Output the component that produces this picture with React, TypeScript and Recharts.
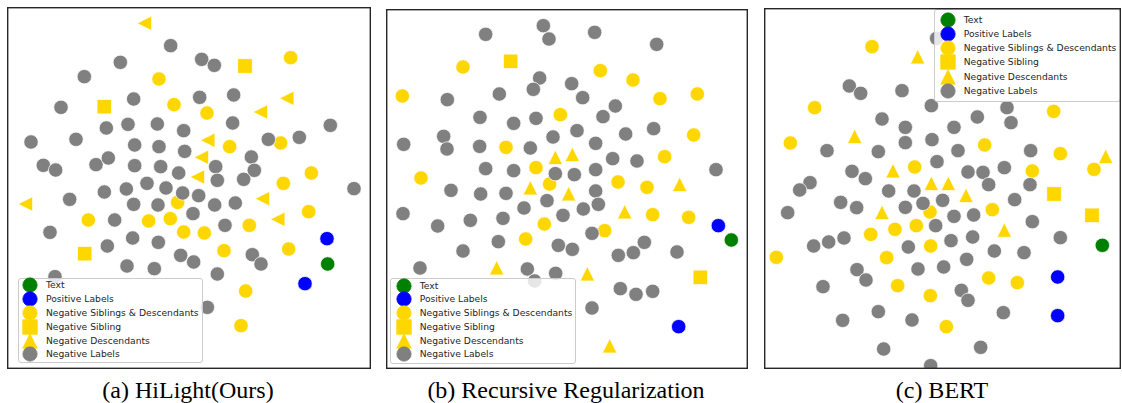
import React from 'react';
import { ScatterChart, Scatter, XAxis, YAxis, Legend } from 'recharts';

type Pt = [number, number];

// ---- shared series definitions ----
const seriesNames = [
  'Text',
  'Positive Labels',
  'Negative Siblings & Descendants',
  'Negative Sibling',
  'Negative Descendants',
  'Negative Labels',
];
const seriesColors = ['#008000', '#0000ff', '#ffd700', '#ffd700', '#ffd700', '#808080'];
const legendShapes = ['circle', 'circle', 'circle', 'square', 'triangle', 'circle'];
const captions = ['(a) HiLight(Ours)', '(b) Recursive Regularization', '(c) BERT'];

// ---- panel (a) HiLight ----
const aText: Pt[] = [[968, 777]];
const aPositive: Pt[] = [[966, 701], [900, 836]];
const aNegSibDesc: Pt[] = [
  [857, 158], [462, 222], [507, 299], [606, 324], [674, 425], [827, 414], [919, 504], [835, 535],
  [518, 592], [250, 645], [431, 648], [496, 641], [536, 681], [598, 684], [733, 661], [911, 620],
  [657, 737], [851, 732], [722, 858], [708, 962],
];
const aNegSibling: Pt[] = [[720, 183], [298, 305], [239, 746]];
const aNegDesc: Pt[] = [
  [418, 55], [845, 280], [766, 321], [608, 406], [589, 457], [577, 516], [61, 597], [772, 581], [818, 643],
];
const aNegLabels: Pt[] = [
  [497, 122], [346, 172], [590, 163], [628, 181], [238, 215], [386, 282], [584, 277], [686, 270],
  [168, 307], [304, 369], [369, 358], [457, 357], [536, 377], [683, 354], [976, 361], [78, 411],
  [213, 403], [389, 420], [462, 425], [539, 439], [790, 403], [883, 397], [115, 481], [152, 495],
  [273, 479], [310, 459], [389, 482], [467, 485], [521, 504], [632, 485], [739, 456], [748, 496],
  [716, 523], [637, 526], [1047, 551], [194, 583], [298, 561], [364, 552], [426, 535], [483, 549],
  [533, 564], [581, 572], [386, 598], [459, 600], [629, 600], [691, 594], [564, 626], [329, 645],
  [660, 661], [135, 682], [383, 699], [460, 712], [307, 723], [527, 751], [566, 771], [742, 749],
  [768, 777], [366, 783], [448, 791], [637, 807], [150, 815], [607, 907],
];

// ---- panel (b) Recursive Regularization ----
const bText: Pt[] = [[1045, 705]];
const bPositive: Pt[] = [[1006, 662], [887, 965]];
const bNegSibDesc: Pt[] = [
  [240, 186], [652, 197], [750, 225], [58, 273], [831, 281], [943, 267], [532, 329], [932, 390],
  [369, 427], [845, 455], [459, 488], [114, 519], [500, 537], [705, 531], [792, 547], [809, 629],
  [917, 637], [484, 657], [428, 702], [665, 677],
];
const bNegSibling: Pt[] = [[383, 169], [952, 817]];
const bNegDesc: Pt[] = [
  [517, 457], [568, 448], [442, 548], [557, 566], [890, 538], [725, 620], [341, 788], [613, 806], [680, 1022],
];
const bNegLabels: Pt[] = [
  [481, 62], [498, 102], [308, 88], [635, 82], [821, 118], [470, 219], [451, 253], [566, 236],
  [599, 278], [349, 267], [193, 284], [697, 303], [660, 335], [291, 337], [392, 355], [459, 340],
  [582, 377], [510, 396], [728, 387], [812, 371], [62, 418], [182, 394], [192, 432], [290, 424],
  [442, 429], [638, 415], [689, 461], [762, 468], [308, 491], [392, 497], [517, 506], [574, 509],
  [638, 494], [999, 494], [204, 556], [293, 567], [369, 565], [492, 587], [638, 558], [646, 598],
  [601, 612], [423, 609], [540, 631], [360, 640], [262, 646], [60, 626], [164, 663], [627, 685],
  [346, 710], [240, 738], [526, 721], [568, 733], [706, 751], [751, 743], [784, 712], [882, 741],
  [111, 789], [433, 792], [518, 805], [712, 851], [759, 868], [809, 859], [627, 909], [455, 828],
];

// ---- panel (c) BERT ----
const cText: Pt[] = [[1027, 721]];
const cPositive: Pt[] = [[893, 816], [893, 932]];
const cNegSibDesc: Pt[] = [
  [336, 125], [164, 308], [881, 319], [91, 414], [674, 420], [901, 446], [464, 486], [817, 498],
  [1002, 493], [510, 621], [697, 614], [332, 688], [405, 673], [469, 662], [512, 723], [49, 757],
  [380, 758], [686, 819], [772, 833], [413, 842], [511, 872], [559, 965],
];
const cNegSibling: Pt[] = [[882, 567], [996, 631]];
const cNegDesc: Pt[] = [
  [473, 155], [284, 394], [1037, 454], [399, 497], [514, 535], [565, 535], [618, 571], [366, 622], [733, 675],
];
const cNegLabels: Pt[] = [
  [530, 100], [268, 243], [302, 265], [426, 257], [514, 302], [741, 308], [753, 353], [652, 336],
  [366, 342], [436, 367], [582, 367], [516, 404], [436, 413], [201, 437], [355, 440], [594, 437],
  [812, 437], [531, 470], [276, 499], [316, 521], [150, 533], [119, 555], [624, 501], [669, 502],
  [733, 488], [686, 539], [810, 539], [386, 558], [462, 558], [548, 586], [489, 595], [242, 592],
  [290, 608], [436, 607], [764, 584], [83, 623], [582, 634], [641, 630], [527, 662], [817, 650],
  [252, 699], [206, 711], [161, 723], [445, 726], [573, 707], [638, 696], [901, 698], [703, 738],
  [792, 743], [620, 763], [291, 794], [318, 825], [474, 792], [551, 786], [189, 845], [604, 856],
  [624, 886], [355, 920], [248, 946], [456, 945], [730, 923], [371, 1032], [662, 1027], [512, 1082],
];

// ---- marker drawing ----
const MS = 14.5;
const CR = 7.2;

function marker(kind: string, cx: number, cy: number, color: string, stroke = '#ffffff') {
  const h = MS / 2;
  const common = { fill: color, stroke, strokeWidth: 0.7 };
  if (kind === 'square') return <rect x={cx - h} y={cy - h} width={MS} height={MS} {...common} />;
  if (kind === 'triangle')
    return <polygon points={`${cx},${cy - h} ${cx - h},${cy + h} ${cx + h},${cy + h}`} {...common} />;
  if (kind === 'triangleLeft')
    return <polygon points={`${cx - h},${cy} ${cx + h},${cy - h} ${cx + h},${cy + h}`} {...common} />;
  return <circle cx={cx} cy={cy} r={CR} {...common} />;
}

type LegendCfg = {
  left: number; top: number; width: number; height: number;
  padTop: number; rowH: number; markerX: number; textX: number;
};

function LegendBox({ cfg }: { cfg: LegendCfg }) {
  return (
    <div
      style={{
        position: 'relative',
        width: cfg.width,
        height: cfg.height,
        boxSizing: 'border-box',
        background: 'rgba(255,255,255,0.8)',
        border: '1px solid #cccccc',
        borderRadius: 3,
        fontFamily: '"DejaVu Sans", sans-serif',
        fontSize: 9.2,
        color: '#262626',
      }}
    >
      {seriesNames.map((name, i) => {
        const cy = cfg.padTop + i * cfg.rowH;
        return (
          <React.Fragment key={name}>
            <svg
              width={18}
              height={18}
              style={{ position: 'absolute', left: cfg.markerX - 9 - 1, top: cy - 9 - 1, overflow: 'visible' }}
            >
              {marker(legendShapes[i], 9, 9, seriesColors[i], seriesColors[i])}
            </svg>
            <div
              style={{
                position: 'absolute',
                left: cfg.textX - 1,
                top: cy - 7 - 1,
                height: 14,
                lineHeight: '14px',
                whiteSpace: 'nowrap',
              }}
            >
              {name}
            </div>
          </React.Fragment>
        );
      })}
    </div>
  );
}

type PanelProps = {
  left: number; top: number; width: number; height: number;
  xDomain: [number, number]; yDomain: [number, number];
  series: Pt[][]; descShape: string; legend: LegendCfg;
};

function Panel({ left, top, width, height, xDomain, yDomain, series, descShape, legend }: PanelProps) {
  const plotShapes = ['circle', 'circle', 'circle', 'square', descShape, 'circle'];
  return (
    <div style={{ position: 'absolute', left, top, width, height, overflow: 'hidden' }}>
      <ScatterChart width={width} height={height} margin={{ top: 0, right: 0, bottom: 0, left: 0 }}>
        <XAxis type="number" dataKey="x" domain={xDomain} hide allowDataOverflow />
        <YAxis type="number" dataKey="y" domain={yDomain} hide reversed allowDataOverflow />
        {series.map((pts, i) => (
          <Scatter
            key={seriesNames[i]}
            name={seriesNames[i]}
            data={pts.map(([x, y]) => ({ x, y }))}
            fill={seriesColors[i]}
            isAnimationActive={false}
            shape={(p: any) => marker(plotShapes[i], p.cx, p.cy, seriesColors[i])}
          />
        ))}
        <Legend
          layout="vertical"
          align="center"
          verticalAlign="middle"
          wrapperStyle={{ left: legend.left, top: legend.top, width: legend.width, height: legend.height }}
          content={() => <LegendBox cfg={legend} />}
        />
      </ScatterChart>
      <svg
        width={width}
        height={height}
        style={{ position: 'absolute', left: 0, top: 0, pointerEvents: 'none' }}
      >
        <rect x={0.7} y={0.7} width={width - 1.4} height={height - 1.4} fill="none" stroke="#262626" strokeWidth={1.4} />
      </svg>
    </div>
  );
}

export default function App() {
  const captionCenters = [188, 566, 942];
  return (
    <div style={{ position: 'absolute', left: 0, top: 0, width: 1122, height: 403, background: '#ffffff' }}>
      <Panel
        left={7} top={7} width={364} height={362}
        xDomain={[6, 1098]} yDomain={[6, 1092]}
        series={[aText, aPositive, aNegSibDesc, aNegSibling, aNegDesc, aNegLabels]}
        descShape="triangleLeft"
        legend={{ left: 10.7, top: 270.7, width: 185.6, height: 85.6, padTop: 7.3, rowH: 13.9, markerX: 12.3, textX: 28.3 }}
      />
      <Panel
        left={386} top={9} width={362} height={360}
        xDomain={[9, 1095]} yDomain={[12, 1092]}
        series={[bText, bPositive, bNegSibDesc, bNegSibling, bNegDesc, bNegLabels]}
        descShape="triangle"
        legend={{ left: 4.3, top: 269.3, width: 186, height: 85.7, padTop: 7.4, rowH: 13.75, markerX: 13.7, textX: 29.4 }}
      />
      <Panel
        left={764} top={8} width={357} height={361}
        xDomain={[12, 1083]} yDomain={[9, 1092]}
        series={[cText, cPositive, cNegSibDesc, cNegSibling, cNegDesc, cNegLabels]}
        descShape="triangle"
        legend={{ left: 170.3, top: 1, width: 186.7, height: 92.7, padTop: 10.7, rowH: 14.2, markerX: 14, textX: 29.4 }}
      />
      {captions.map((c, i) => (
        <div
          key={c}
          style={{
            position: 'absolute',
            left: captionCenters[i] - 180,
            width: 360,
            top: 378,
            lineHeight: '24px',
            textAlign: 'center',
            fontFamily: '"Liberation Serif", "Times New Roman", serif',
            fontSize: 24,
            color: '#000000',
            whiteSpace: 'nowrap',
          }}
        >
          {c}
        </div>
      ))}
    </div>
  );
}
